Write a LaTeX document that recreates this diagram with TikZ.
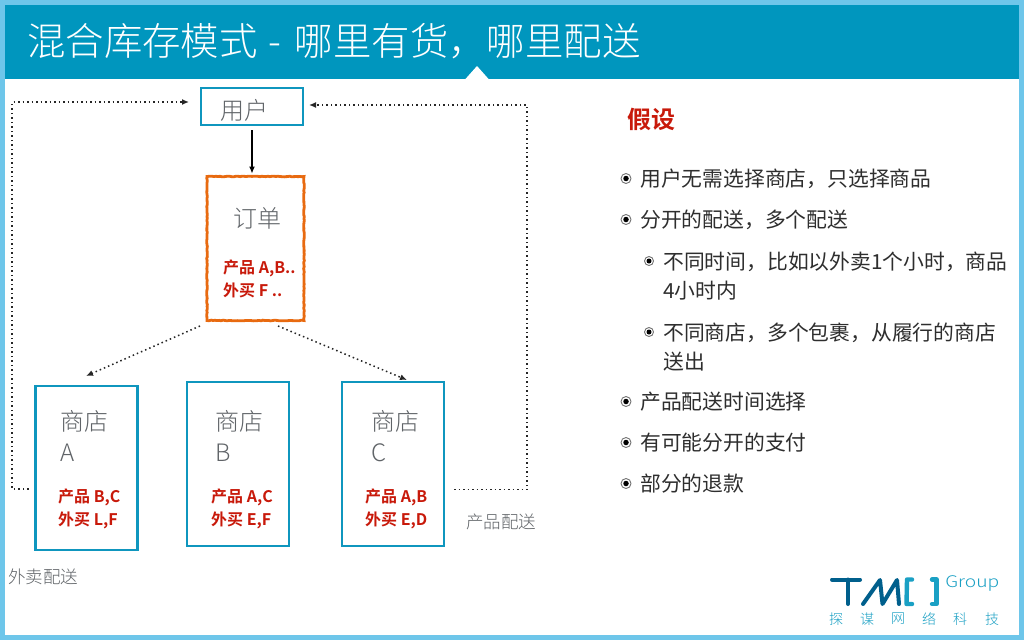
\documentclass[tikz,border=0pt]{standalone}
\usepackage{fontspec}
\usetikzlibrary{arrows.meta,decorations.pathmorphing}
\setmainfont{Noto Sans CJK SC}[BoldFont={Noto Sans CJK SC Bold}]
\newfontfamily\lightcjk{Noto Sans CJK SC Light}
\definecolor{framec}{HTML}{6EC6EA}
\definecolor{headc}{HTML}{0096BE}
\definecolor{boxc}{HTML}{0F96BE}
\definecolor{orangec}{HTML}{E86A10}
\definecolor{redc}{HTML}{C8190A}
\definecolor{grayc}{HTML}{606468}
\definecolor{textc}{HTML}{2E2E2E}
\definecolor{logod}{HTML}{005F8C}
\definecolor{logol}{HTML}{1AA0C4}
\tikzset{
 bluebox/.style={draw=boxc,line width=2.2pt,fill=white,inner sep=0pt,outer sep=0pt,minimum width=102pt},
 orderbox/.style={draw=orangec,line width=2.8pt,inner sep=0pt,outer sep=0pt,minimum width=97pt,minimum height=144pt,
   decorate,decoration={random steps,segment length=2pt,amplitude=.35pt}},
 graytxt/.style={text=grayc,inner sep=0pt,anchor=west,font=\lightcjk\fontsize{24}{31}\selectfont,align=left},
 redtxt/.style={text=redc,inner sep=0pt,anchor=west,font=\bfseries\fontsize{16}{23}\selectfont,align=left},
 smalltxt/.style={text=grayc,inner sep=0pt,anchor=west,font=\lightcjk\fontsize{17.5}{20}\selectfont},
 bodytxt/.style={text=textc,inner sep=0pt,anchor=west,font=\fontsize{20.8}{29}\selectfont,align=left},
 dotarrow/.style={draw=black!85,line width=1.5pt,dash pattern=on 1.5pt off 3pt,-{Latex[length=7pt,width=6pt]}},
 solidarrow/.style={draw=black,line width=1.1pt,-{Latex[length=7pt,width=6pt]}},
 bull/.style={circle,draw=black!55,line width=.9pt,fill=white,minimum size=10pt,inner sep=0pt},
 bulli/.style={circle,fill=black,minimum size=5.5pt,inner sep=0pt},
 logobar/.style={line width=4pt,line cap=round,line join=round,draw=logod},
 logobr/.style={line width=4.4pt,line cap=round,line join=round,draw=logol},
}
\begin{document}
\begin{tikzpicture}[x=1pt,y=-1pt]
\useasboundingbox (0,0) rectangle (1024,640);
\fill[white] (0,0) rectangle (1024,640);
\draw[framec,line width=4.6pt] (2.3,2.3) rectangle (1021.7,637.7);
\fill[headc] (4.6,4.6) rectangle (1019.4,79);
\fill[white] (465,79.5) -- (477,66) -- (489,79.5) -- cycle;
\node[text=white,inner sep=0pt,anchor=base west,font=\lightcjk\fontsize{38.4}{44}\selectfont] (title) at (27,55) {混合库存模式\hspace{11pt}-\hspace{13.5pt}哪里有货，哪里配送};

\node[bluebox,minimum height=37pt,anchor=north west] (user) at (201,88) {};
\node[graytxt] (usertxt) at (220,110) {用户};
\node[orderbox,anchor=north west] (order) at (207,176.5) {};
\node[graytxt] (ordertxt) at (233,218) {订单};
\node[redtxt] (ordered) at (223,278.5) {产品 A,B..\\外买 F ..};

\node[bluebox,minimum height=164pt,anchor=north west] (storeA) at (35.5,386) {};
\node[bluebox,minimum height=164pt,anchor=north west] (storeB) at (187,382) {};
\node[bluebox,minimum height=164pt,anchor=north west] (storeC) at (342,382) {};
\node[graytxt] (ta) at (60,436) {商店\\A};
\node[graytxt] (tb) at (215,436) {商店\\B};
\node[graytxt] (tc) at (371,436) {商店\\C};
\node[redtxt] (ra) at (58,509) {产品 B,C\\外买 L,F};
\node[redtxt] (rb) at (211,509) {产品 A,C\\外买 E,F};
\node[redtxt] (rc) at (365,509) {产品 A,B\\外买 E,D};
\node[smalltxt] (lb1) at (466,521.5) {产品配送};
\node[smalltxt] (lb2) at (8,576.5) {外卖配送};

\coordinate (aout) at (storeA.west |- 0,489);
\coordinate (cout) at (storeC.east |- 0,489.5);
\coordinate (uleft) at (user.west |- 0,102);
\coordinate (uright) at (user.east |- 0,105);
\coordinate (lx) at (12,0);
\coordinate (rx) at (527,0);
\draw[solidarrow,shorten <=5pt,shorten >=3pt] (user.south) -- (user.south |- order.north);
\draw[dotarrow,shorten <=7pt,shorten >=12pt] (aout) -- (lx |- aout) -- (lx |- uleft) -- (uleft);
\draw[dotarrow,shorten <=10pt,shorten >=6pt] (cout) -- (rx |- cout) -- (rx |- uright) -- (uright);
\coordinate (oa) at (200,326);
\coordinate (ob) at (278,326);
\draw[dotarrow] (oa) -- (86,376);
\draw[dotarrow] (ob) -- (407,380);

\node[text=redc,inner sep=0pt,anchor=west,font=\bfseries\fontsize{24}{28}\selectfont] (assume) at (627.5,119) {假设};
\foreach \y/\s in {178.5/用户无需选择商店，只选择商品,219.5/分开的配送，多个配送,401.5/产品配送时间选择,442.5/有可能分开的支付,483.5/部分的退款}{
 \node[bull] at (626,\y) {}; \node[bulli] at (626,\y) {};
 \node[bodytxt] at (640,\y) {\s};
}
\node[bull,minimum size=9pt] (b1) at (649,261) {}; \node[bulli,minimum size=5pt] at (b1) {};
\node[bodytxt] (s1) at (663,276) {不同时间，比如以外卖1个小时，商品\\4小时内};
\node[bull,minimum size=9pt] (b2) at (649,332) {}; \node[bulli,minimum size=5pt] at (b2) {};
\node[bodytxt] (s2) at (663,347) {不同商店，多个包裹，从履行的商店\\送出};

% logo
\draw[logobar] (832,579.5) -- (860,579.5) (848,579.5) -- (848,604);
\draw[logobar] (863,604) -- (880,580) -- (882.5,604) -- (897,580) -- (899,604);
\draw[logobr] (912,579.5) -- (907,579.5) -- (906.5,604) -- (912,604);
\draw[logobr] (932,579.5) -- (936.5,579.5) -- (936.5,604) -- (932,604);
\node[text=logol,inner sep=0pt,anchor=base west,xscale=1.2,font=\lightcjk\fontsize{16}{20}\selectfont] (grp) at (945,587) {Group};
\foreach \x/\c in {836/探,867/谋,898/网,929/络,960/科,992/技}{
 \node[text=logol,inner sep=0pt,font=\lightcjk\fontsize{14}{16}\selectfont] at (\x,619) {\c};
}
\end{tikzpicture}
\end{document}
